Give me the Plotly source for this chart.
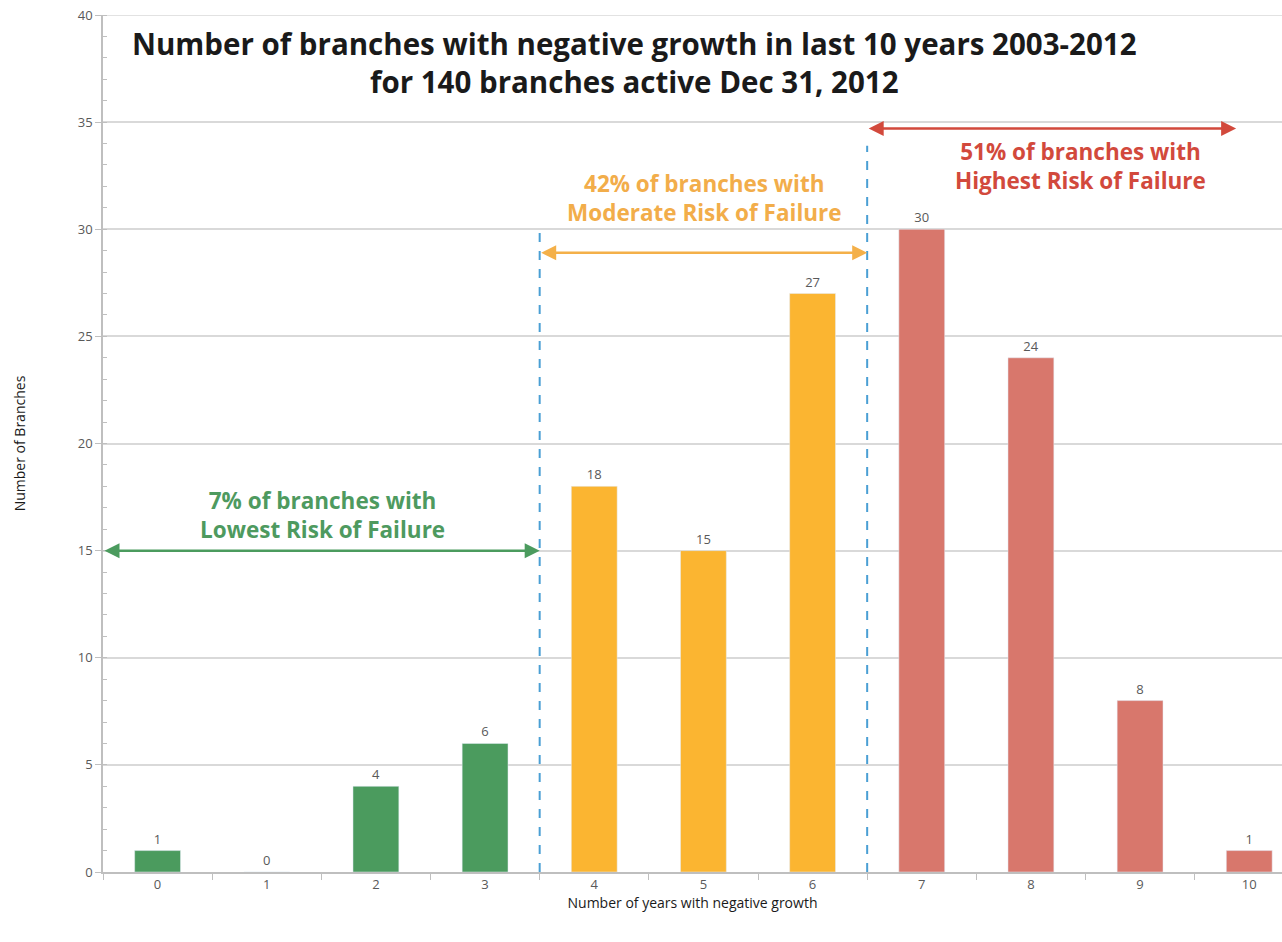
import plotly.graph_objects as go

years = list(range(11))
branches = [1, 0, 4, 6, 18, 15, 27, 30, 24, 8, 1]
green, orange, red = "#4b9b5e", "#fbb531", "#d8776c"
colors = [green]*4 + [orange]*3 + [red]*4

title_lines = ["Number of branches with negative growth in last 10 years 2003-2012",
               "for 140 branches active Dec 31, 2012"]
group_texts = [("7% of branches with<br>Lowest Risk of Failure", "#4e9a5f"),
               ("42% of branches with<br>Moderate Risk of Failure", "#f2ad4a"),
               ("51% of branches with<br>Highest Risk of Failure", "#d2493c")]

FONT = "Open Sans"

fig = go.Figure()
fig.add_trace(go.Bar(
    x=years, y=branches, marker_color=colors, width=0.42,
    text=[str(v) for v in branches], textposition="outside",
    textfont=dict(size=13, color="#595959", family=FONT),
    cliponaxis=False,
))

# top gridline at the axis maximum
fig.add_shape(type="line", x0=0, x1=1, xref="x domain", y0=40, y1=40, yref="y",
              line=dict(color="#d9d9d9", width=1.5), layer="below")

# dashed boundaries
for xb, ytop in [(3.5, 29.9), (6.5, 33.9)]:
    fig.add_shape(type="line", x0=xb, x1=xb, y0=0, y1=ytop, xref="x", yref="y",
                  line=dict(color="#4a9fd4", width=2, dash="dash"))

# arrows
arrows = [(-0.5, 3.5, 15, "#4b9b5e"), (3.5, 6.5, 28.9, "#f4b049"), (6.5, 9.88, 34.7, "#d2493c")]
for x0, x1, yv, c in arrows:
    fig.add_annotation(x=x1, y=yv, ax=x0, ay=yv, xref="x", yref="y", axref="x", ayref="y",
                       text="", showarrow=True, arrowhead=2, startarrowhead=2,
                       arrowside="end+start", arrowsize=1.2, arrowwidth=2.5, arrowcolor=c)

# group labels
pos = [(1.51, 16.66), (5.01, 31.45), (8.45, 32.95)]
for (t, c), (xp, yp) in zip(group_texts, pos):
    fig.add_annotation(x=xp, y=yp, xref="x", yref="y", text="<b>" + t + "</b>", showarrow=False,
                       font=dict(size=22.5, color=c, family=FONT), align="center")

fig.add_annotation(x=4.37, xref="x", y=37.8, yref="y", showarrow=False,
                   text="<b>" + title_lines[0] + "<br>" + title_lines[1] + "</b>",
                   font=dict(size=29.5, color="#1a1a1a", family=FONT), align="center")

fig.update_layout(
    width=1282, height=942,
    margin=dict(l=103, r=0, t=15, b=70),
    plot_bgcolor="white", paper_bgcolor="white",
    showlegend=False, bargap=0.58,
    font=dict(family=FONT, color="#595959"),
)
fig.update_xaxes(
    range=[-0.5, 10.3], tickvals=years, ticktext=[str(v) for v in years],
    ticks="", showgrid=False, showline=True, linecolor="#bfbfbf", linewidth=1.5,
    tickfont=dict(size=13, color="#595959"), automargin=False,
    minor=dict(tick0=-0.5, dtick=1, ticks="outside", ticklen=6, tickcolor="#bfbfbf", showgrid=False),
    title=dict(text="Number of years with negative growth", font=dict(size=14, color="#1a1a1a"), standoff=5),
    zeroline=False,
)
fig.update_yaxes(
    range=[0, 40], dtick=5, ticks="outside", ticklen=6, tickcolor="#bfbfbf",
    showgrid=True, gridcolor="#d9d9d9", gridwidth=1.5,
    showline=True, linecolor="#bfbfbf", linewidth=1.5,
    tickfont=dict(size=13, color="#595959"), automargin=False, ticklabeloverflow="allow",
    minor=dict(dtick=1, ticks="inside", ticklen=4, tickcolor="#bfbfbf", showgrid=False),
    title=dict(text="Number of Branches", font=dict(size=14, color="#1a1a1a"), standoff=49),
    zeroline=False,
)

fig.write_html("out.html", config={"displayModeBar": False},
               post_script="document.body.style.margin='0';")
